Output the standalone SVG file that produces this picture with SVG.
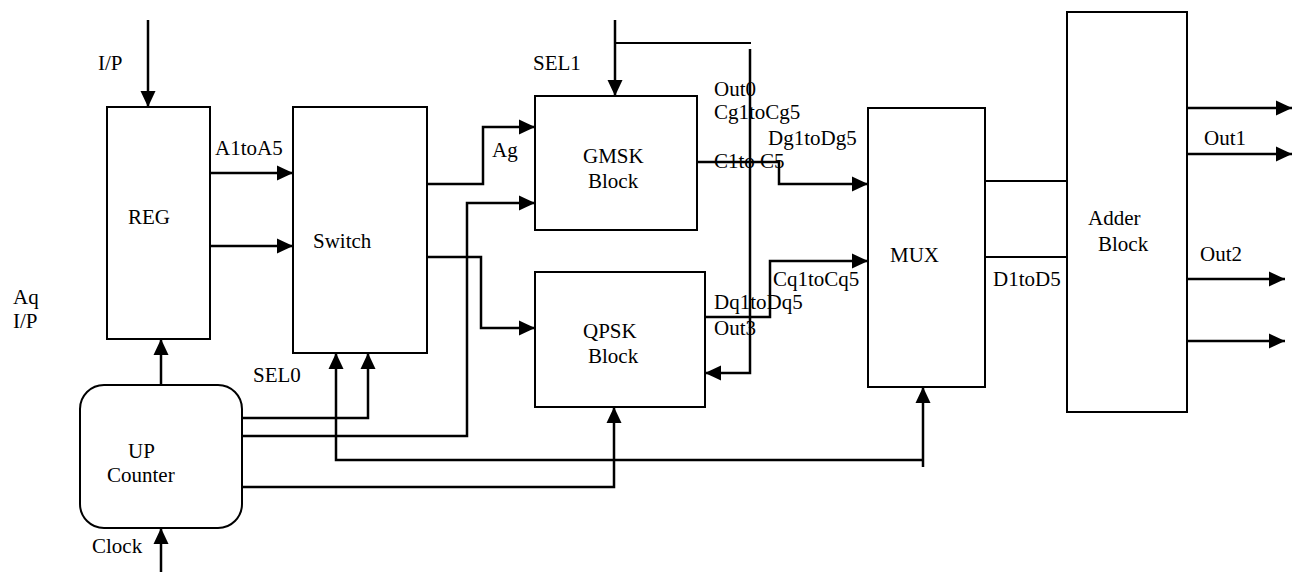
<svg xmlns="http://www.w3.org/2000/svg" width="1292" height="572" viewBox="0 0 1292 572">
<style>
.box{fill:#fff;stroke:#000;stroke-width:2}
.w{fill:none;stroke:#000;stroke-width:2}
.a{fill:none;stroke:#000;stroke-width:2.5;marker-end:url(#ah)}
text{font-family:"Liberation Serif","Times New Roman",serif;font-size:21px;fill:#000}
</style>
<defs>
<marker id="ah" markerUnits="userSpaceOnUse" markerWidth="16" markerHeight="16" viewBox="0 0 16 16" refX="16" refY="8" orient="auto">
<path d="M0,0.5 L16,8 L0,15.5 Z" fill="#000"/>
</marker>
</defs>
<rect width="1292" height="572" fill="#fff"/>
<g id="connectors">
<path class="a" d="M148,20 V107"/>
<path class="a" d="M210,173 H293"/>
<path class="a" d="M210,246 H293"/>
<path class="a" d="M161,387 V339"/>
<path class="a" d="M427,184 H483 V127 H535"/>
<path class="a" d="M427,257 H481 V328 H535"/>
<path class="a" d="M242,436 H467 V203 H535"/>
<path class="a" d="M242,418 H368 V353"/>
<path class="a" d="M242,487 H614 V407"/>
<path class="a" d="M923,460 H336 V353"/>
<path class="a" d="M923,467 V387"/>
<path class="a" d="M615,20 V96"/>
<path class="w" d="M615,43 H751"/>
<path class="a" d="M750,49 V373 H705"/>
<path class="a" d="M697,162 H779 V184 H868"/>
<path class="a" d="M705,317 H770 V261 H868"/>
<path class="w" d="M985,181 H1067"/>
<path class="w" d="M985,257 H1067"/>
<path class="a" d="M1187,108 H1292"/>
<path class="a" d="M1187,154 H1292"/>
<path class="a" d="M1187,279 H1285"/>
<path class="a" d="M1187,341 H1285"/>
<path class="a" d="M161,572 V528"/>
</g>
<g id="reg"><rect class="box" x="107" y="107" width="103" height="232"/><text x="128" y="224">REG</text></g>
<g id="switch"><rect class="box" x="293" y="107" width="134" height="246"/><text x="313" y="248">Switch</text></g>
<g id="gmsk"><rect class="box" x="535" y="96" width="162" height="134"/><text x="583" y="163">GMSK</text><text x="588" y="188">Block</text></g>
<g id="qpsk"><rect class="box" x="535" y="272" width="170" height="135"/><text x="583" y="338">QPSK</text><text x="588" y="363">Block</text></g>
<g id="mux"><rect class="box" x="868" y="108" width="117" height="279"/><text x="890" y="262">MUX</text></g>
<g id="adder"><rect class="box" x="1067" y="12" width="120" height="400"/><text x="1088" y="225">Adder</text><text x="1098" y="251">Block</text></g>
<g id="counter"><rect class="box" x="80" y="385" width="162" height="143" rx="24" ry="24"/><text x="128" y="458">UP</text><text x="107" y="482">Counter</text></g>
<g id="labels">
<text x="98" y="70">I/P</text>
<text x="215" y="155">A1toA5</text>
<text x="13" y="304">Aq</text>
<text x="13" y="328">I/P</text>
<text x="253" y="382">SEL0</text>
<text x="92" y="553">Clock</text>
<text x="492" y="157">Ag</text>
<text x="533" y="70">SEL1</text>
<text x="714" y="96">Out0</text>
<text x="714" y="119">Cg1toCg5</text>
<text x="768" y="145">Dg1toDg5</text>
<text x="714" y="168">C1to C5</text>
<text x="714" y="309">Dq1toDq5</text>
<text x="714" y="335">Out3</text>
<text x="773" y="286">Cq1toCq5</text>
<text x="993" y="286">D1toD5</text>
<text x="1204" y="145">Out1</text>
<text x="1200" y="261">Out2</text>
</g>
</svg>
